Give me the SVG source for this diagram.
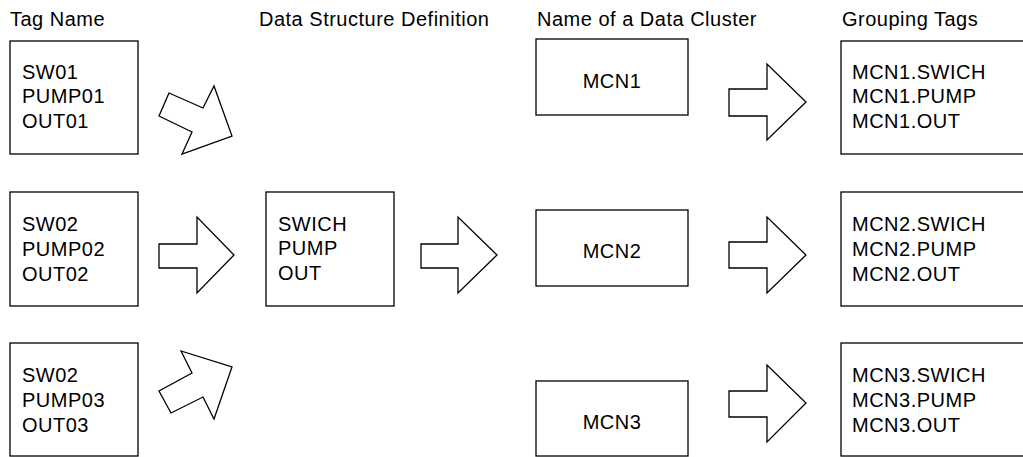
<svg xmlns="http://www.w3.org/2000/svg" width="1023" height="457" viewBox="0 0 1023 457">
<style>
.box{fill:#fff;stroke:#000;stroke-width:1.3}
.arr{fill:#fff;stroke:#000;stroke-width:1.3;stroke-linejoin:miter}
text{font-family:"Liberation Sans",Arial,sans-serif;font-size:20px;letter-spacing:0.5px;fill:#000}
.c{text-anchor:middle}
</style>
<rect width="1023" height="457" fill="#fff"/>
<g id="titles">
<text x="10" y="26">Tag Name</text>
<text x="259" y="26">Data Structure Definition</text>
<text x="537" y="26">Name of a Data Cluster</text>
<text x="842" y="26">Grouping Tags</text>
</g>
<g id="tag1"><rect class="box" x="10" y="41" width="128" height="113"/>
<text x="22" y="79">SW01</text><text x="22" y="103">PUMP01</text><text x="22" y="128">OUT01</text></g>
<g id="tag2"><rect class="box" x="10" y="192" width="128" height="114"/>
<text x="22" y="231">SW02</text><text x="22" y="256">PUMP02</text><text x="22" y="281">OUT02</text></g>
<g id="tag3"><rect class="box" x="10" y="343" width="128" height="113"/>
<text x="22" y="382">SW02</text><text x="22" y="407">PUMP03</text><text x="22" y="432">OUT03</text></g>
<g id="struct"><rect class="box" x="266" y="192" width="128" height="114"/>
<text x="278" y="231">SWICH</text><text x="278" y="255">PUMP</text><text x="278" y="280">OUT</text></g>
<g id="mcn1"><rect class="box" x="536" y="39" width="152" height="76"/>
<text class="c" x="612" y="88">MCN1</text></g>
<g id="mcn2"><rect class="box" x="536" y="210" width="152" height="76"/>
<text class="c" x="612" y="258">MCN2</text></g>
<g id="mcn3"><rect class="box" x="536" y="381" width="152" height="75"/>
<text class="c" x="612" y="429">MCN3</text></g>
<g id="group1"><rect class="box" x="841" y="41" width="200" height="113"/>
<text x="852" y="79">MCN1.SWICH</text><text x="852" y="103">MCN1.PUMP</text><text x="852" y="128">MCN1.OUT</text></g>
<g id="group2"><rect class="box" x="841" y="192" width="200" height="114"/>
<text x="852" y="231">MCN2.SWICH</text><text x="852" y="256">MCN2.PUMP</text><text x="852" y="281">MCN2.OUT</text></g>
<g id="group3"><rect class="box" x="841" y="343" width="200" height="113"/>
<text x="852" y="382">MCN3.SWICH</text><text x="852" y="407">MCN3.PUMP</text><text x="852" y="432">MCN3.OUT</text></g>
<g id="connectors">
<polygon class="arr" points="169,93 159,116 192,132 182,154 232,136 214,86 203,108"/>
<polygon class="arr" points="159,244 197,244 197,217 234,255 197,293 197,268 159,268"/>
<polygon class="arr" points="181,351 192,373 159,391 171,413 203,397 214,419 232,367"/>
<polygon class="arr" points="421,244 458,244 458,217 497,255 458,293 458,268 421,268"/>
<polygon class="arr" points="729,89 767,89 767,64 806,102 767,140 767,116 729,116"/>
<polygon class="arr" points="729,242 767,242 767,217 806,255 767,293 767,268 729,268"/>
<polygon class="arr" points="729,391 767,391 767,365 806,403 767,442 767,417 729,417"/>
</g>
</svg>
